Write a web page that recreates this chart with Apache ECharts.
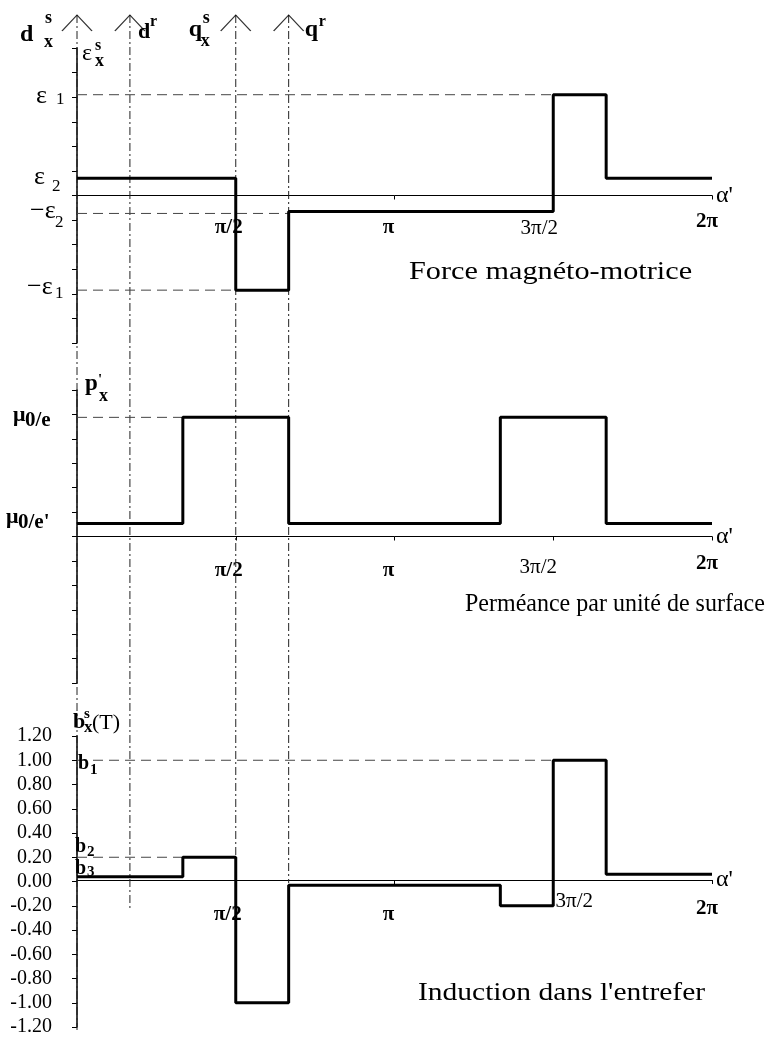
<!DOCTYPE html>
<html>
<head>
<meta charset="utf-8">
<script src="https://cdn.jsdelivr.net/npm/echarts@6/dist/echarts.min.js"></script>
<style>
  html, body { margin: 0; padding: 0; background: #fff; }
  #chart { width: 770px; height: 1037px; }
</style>
</head>
<body>
<div id="chart"></div>
<script>
// angle breaks (units of pi) where the curves change level
const breaks = [0, 1/3, 1/2, 2/3, 4/3, 3/2, 5/3, 2]
// one level per segment between two breaks
const fmm = [0.7, 0.7, -3.85, -0.65, -0.65, 4.1, 0.7]          // tick units
const permeance = [0.53, 4.88, 4.88, 0.53, 4.88, 4.88, 0.53]   // tick units
const induction = [0.04, 0.2, -1.0, -0.03, -0.2, 1.0, 0.06]    // T

const angleTicks = [0.5, 1, 1.5, 2]
const angleLabels = ['π/2', 'π', '3π/2', '2π']

// dashed level guides: [level, x where it stops]
const fmmRefs = [[4.1, 1.5], [-0.73, 2/3], [-3.85, 1/2]]
const permRefs = [[4.88, 1/3]]
const indRefs = [[1.0, 1.5], [0.2, 1/3]]

// d / q axes of stator and rotor: x position, lower end (induction units)
const refAxes = [[0, -1.2], [1/6, -0.22], [1/2, 0], [2/3, 0]]
const refTop = 7.09

const titles = ['Force magnéto-motrice', 'Perméance par unité de surface', "Induction dans l'entrefer"]

const SERIF = 'Liberation Serif'

// label placement tweaks for the angle labels (px): drop below axis, sideways shift
const labelDrop = [[33, 33, 33, 27], [35, 35, 31, 28], [35, 35, 22, 29]]
const labelShift = [[-7, -6, -14, -5], [-7, -6, -15, -5], [-8, -6, 21, -5]]

const steps = vals => {
  const pts = vals.map((v, i) => [breaks[i], v])
  pts.push([breaks[breaks.length - 1], vals[vals.length - 1]])
  return pts
}

const chart = echarts.init(document.getElementById('chart'), null, { renderer: 'canvas' })

const grids = [
  { top: 48, height: 295 },
  { top: 390, height: 293 },
  { top: 736, height: 294 },
  { top: 15, height: 1015 },
].map(g => ({ left: 77, width: 635, ...g }))

const xAxisFor = i => {
  const rich = {}
  angleTicks.forEach((t, k) => {
    const dx = labelShift[i][k]
    rich['l' + k] = {
      fontFamily: SERIF,
      fontSize: 21,
      fontWeight: k === 2 ? 'normal' : 'bold',
      color: '#000',
      padding: [labelDrop[i][k] - 11, dx < 0 ? -2 * dx : 0, 0, dx > 0 ? 2 * dx : 0],
    }
  })
  return {
    gridIndex: i,
    type: 'value',
    min: 0,
    max: 2,
    offset: -grids[i].height / 2,
    axisLine: { onZero: false, lineStyle: { color: '#000', width: 1 } },
    axisTick: { customValues: angleTicks, length: 4, lineStyle: { color: '#000' } },
    axisLabel: {
      customValues: angleTicks,
      margin: 0,
      formatter: v => {
        const k = angleTicks.indexOf(v)
        return '{l' + k + '|' + angleLabels[k] + '}'
      },
      rich,
    },
    splitLine: { show: false },
    name: "α'",
    nameLocation: 'end',
    nameGap: 4,
    nameTextStyle: { fontFamily: SERIF, fontSize: 24, color: '#000', verticalAlign: 'middle' },
  }
}

const tickAxis = i => ({
  gridIndex: i,
  type: 'value',
  min: -6,
  max: 6,
  interval: 1,
  axisLine: { show: true, lineStyle: { color: '#000', width: 1.5 } },
  axisTick: { length: 5, lineStyle: { color: '#000' } },
  axisLabel: { show: false },
  splitLine: { show: false },
})

const curve = (i, vals) => ({
  type: 'line',
  xAxisIndex: i,
  yAxisIndex: i,
  step: 'end',
  symbol: 'none',
  data: steps(vals),
  lineStyle: { color: '#000', width: 3 },
  z: 5,
})

const levelGuides = (i, refs) => refs.map(([lvl, xe]) => ({
  type: 'line',
  xAxisIndex: i,
  yAxisIndex: i,
  symbol: 'none',
  data: [[0, lvl], [xe, lvl]],
  lineStyle: { color: '#444', width: 1, type: [10, 6] },
  z: 3,
}))

const option = {
  backgroundColor: '#fff',
  animation: false,
  grid: grids,
  xAxis: [
    xAxisFor(0),
    xAxisFor(1),
    xAxisFor(2),
    { gridIndex: 3, type: 'value', min: 0, max: 2, show: false },
  ],
  yAxis: [
    tickAxis(0),
    tickAxis(1),
    {
      gridIndex: 2,
      type: 'value',
      min: -1.2,
      max: 1.2,
      interval: 0.2,
      axisLine: { show: true, lineStyle: { color: '#000', width: 1.5 } },
      axisTick: { length: 5, lineStyle: { color: '#000' } },
      axisLabel: {
        margin: 25,
        color: '#000',
        fontFamily: SERIF,
        fontSize: 20,
        formatter: v => (Math.abs(v) < 1e-9 ? 0 : v).toFixed(2),
      },
      splitLine: { show: false },
    },
    { gridIndex: 3, type: 'value', min: -1.2, max: refTop, show: false },
  ],
  series: [
    // d / q axes, dash-dot, through all three panels
    ...refAxes.map(([x, end]) => ({
      type: 'line',
      xAxisIndex: 3,
      yAxisIndex: 3,
      symbol: 'none',
      data: [[x, refTop], [x, end]],
      lineStyle: { color: '#222', width: 1, type: [8, 3, 2, 3] },
      z: 2,
    })),
    {
      type: 'scatter',
      xAxisIndex: 3,
      yAxisIndex: 3,
      data: refAxes.map(([x]) => [x, refTop]),
      symbol: 'path://M0 16 L15 0 L30 16',
      symbolSize: [30, 16],
      symbolOffset: [0, 8],
      itemStyle: { color: 'rgba(0,0,0,0)', borderColor: '#000', borderWidth: 1 },
      z: 4,
    },
    ...levelGuides(0, fmmRefs),
    ...levelGuides(1, permRefs),
    ...levelGuides(2, indRefs),
    curve(0, fmm),
    curve(1, permeance),
    curve(2, induction),
  ],
}

chart.setOption(option)

// symbol labels with sub/superscripts, anchored to data points: [text, dx, dy, size, weight]
const tags = [
  // top axis names (anchored at the arrow tips)
  { grid: 3, at: [0, refTop], parts: [['d', -57, 20, 24, 'bold'], ['s', -32, 3, 18, 'bold'], ['x', -33, 27, 18, 'bold']] },
  { grid: 3, at: [1/6, refTop], parts: [['d', 8, 17, 22, 'bold'], ['r', 20, 7, 16, 'bold']] },
  { grid: 3, at: [1/2, refTop], parts: [['q', -47, 15, 24, 'bold'], ['s', -33, 3, 18, 'bold'], ['x', -35, 26, 18, 'bold']] },
  { grid: 3, at: [2/3, refTop], parts: [['q', 16, 15, 24, 'bold'], ['r', 30, 7, 16, 'bold']] },
  // force magnéto-motrice
  { grid: 0, at: [0, 6], parts: [['ε', 5, 6, 24], ['s', 18, -2, 16, 'bold'], ['x', 18, 13, 18, 'bold']] },
  { grid: 0, at: [0, 4.1], parts: [['ε', -41, 1, 26], ['1', -21, 5, 17]] },
  { grid: 0, at: [0, 0.7], parts: [['ε', -43, -1, 26], ['2', -25, 8, 17]] },
  { grid: 0, at: [0, -0.73], parts: [['−ε', -47, -2, 26], ['2', -22, 9, 17]] },
  { grid: 0, at: [0, -3.85], parts: [['−ε', -50, -3, 26], ['1', -22, 3, 17]] },
  // perméance
  { grid: 1, at: [0, 6], parts: [['p', 8, -6, 23, 'bold'], ["'", 21, -10, 15, 'bold'], ['x', 22, 6, 18, 'bold']] },
  { grid: 1, at: [0, 4.88], parts: [['μ', -64, -2, 22, 'bold'], ['0/e', -52, 3, 21, 'bold']] },
  { grid: 1, at: [0, 0.53], parts: [['μ', -71, -6, 22, 'bold'], ["0/e'", -59, -1, 21, 'bold']] },
  // induction
  { grid: 2, at: [0, 1.2], parts: [['b', -4, -14, 22, 'bold'], ['s', 7, -22, 15, 'bold'], ['x', 7, -8, 17, 'bold'], ['(T)', 15, -13, 22]] },
  { grid: 2, at: [0, 1.0], parts: [['b', 1, 4, 20, 'bold'], ['1', 13, 10, 15, 'bold']] },
  { grid: 2, at: [0, 0.2], parts: [['b', -2, -10, 20, 'bold'], ['2', 10, -5, 15, 'bold']] },
  { grid: 2, at: [0, 0.04], parts: [['b', -2, -8, 20, 'bold'], ['3', 10, -5, 15, 'bold']] },
]

// panel captions: left edge, centre line, horizontal stretch (the scan is wider than the font)
const captionBox = [[409, 272, 1.21], [465, 604, 0.96], [418, 993, 1.18]]

const graphic = []
tags.forEach(t => {
  const p = chart.convertToPixel({ gridIndex: t.grid }, t.at)
  t.parts.forEach(([text, dx, dy, size, weight]) => {
    graphic.push({
      type: 'text',
      x: p[0] + dx,
      y: p[1] + dy,
      silent: true,
      z: 10,
      style: {
        text,
        fontFamily: SERIF,
        fontSize: size,
        fontWeight: weight || 'normal',
        fill: '#000',
        align: 'left',
        verticalAlign: 'middle',
      },
    })
  })
})
titles.forEach((text, i) => {
  const [x, y, sx] = captionBox[i]
  graphic.push({
    type: 'text',
    x,
    y,
    scaleX: sx,
    silent: true,
    style: { text, fontFamily: SERIF, fontSize: 25, fill: '#000', align: 'left', verticalAlign: 'middle' },
  })
})
chart.setOption({ graphic })
</script>
</body>
</html>
